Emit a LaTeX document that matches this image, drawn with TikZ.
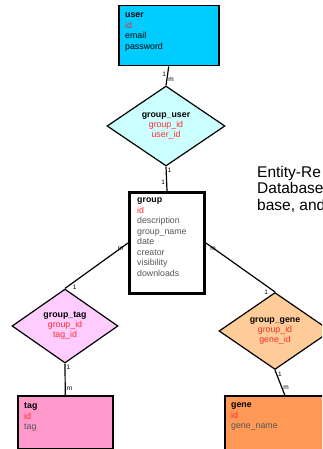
\documentclass[tikz,border=0pt]{standalone}
\usepackage{fontspec}
\setmainfont{Liberation Sans}
\usetikzlibrary{shapes.geometric}
\definecolor{usercyan}{HTML}{00CCFF}
\definecolor{linkcyan}{HTML}{CCFFFF}
\definecolor{linkpink}{HTML}{FFCCFF}
\definecolor{tagpink}{HTML}{FF99CC}
\definecolor{linkpeach}{HTML}{FFCC99}
\definecolor{geneorange}{HTML}{FF9955}
\definecolor{keyred}{HTML}{FF2A2A}
\definecolor{fieldgray}{HTML}{555555}

\begin{document}
\begin{tikzpicture}[x=1pt,y=-1pt,
    entity/.style={draw,line width=1.5pt,anchor=north west,inner sep=0},
    relation/.style={draw,diamond,line width=1.2pt,inner sep=0,align=center,
      font=\fontsize{8.8}{10}\selectfont},
    fields/.style={anchor=north west,align=left,inner sep=0,
      font=\fontsize{8.8}{10.5}\selectfont},
    card/.style={inner sep=1pt,font=\fontsize{6.5}{7}\selectfont},
    link/.style={line width=1.2pt}]
  \useasboundingbox (0,0) rectangle (322,449);
  \clip (0,0) rectangle (322,449);

  \node[entity,fill=usercyan,minimum width=100pt,minimum height=60pt] (user) at (118,5) {};
  \node[fields] (usertxt) at (125,13) {\textbf{user}\\\textcolor{keyred}{id}\\email\\password};

  \node[relation,fill=linkcyan,minimum width=118pt,minimum height=80pt] (groupuser) at (166,126)
    {\textbf{group\_user}\\\textcolor{keyred}{group\_id}\\\textcolor{keyred}{user\_id}};

  \node[entity,line width=3pt,fill=white,minimum width=75pt,minimum height=101pt] (group) at (128,191) {};
  \node[fields,text=fieldgray] (grouptxt) at (137,198) {\textcolor{black}{\textbf{group}}\\
    \textcolor{keyred}{id}\\description\\group\_name\\date\\creator\\visibility\\downloads};

  \node[relation,fill=linkpink,minimum width=106pt,minimum height=74pt] (grouptag) at (65,326)
    {\textbf{group\_tag}\\\textcolor{keyred}{group\_id}\\\textcolor{keyred}{tag\_id}};

  \node[relation,fill=linkpeach,minimum width=112pt,minimum height=74pt] (groupgene) at (275,331)
    {\textbf{group\_gene}\\\textcolor{keyred}{group\_id}\\\textcolor{keyred}{gene\_id}};

  \node[entity,fill=tagpink,minimum width=95pt,minimum height=53pt] (tag) at (17,395) {};
  \node[fields,text=fieldgray] (tagtxt) at (24,403) {\textcolor{black}{\textbf{tag}}\\\textcolor{keyred}{id}\\tag};

  \node[entity,fill=geneorange,minimum width=120pt,minimum height=60pt] (gene) at (224,395) {};
  \node[fields,text=fieldgray] (genetxt) at (231,403) {\textcolor{black}{\textbf{gene}}\\\textcolor{keyred}{id}\\gene\_name};

  \draw[link] (user.south) -- node[card,pos=0.4,left]{1} node[card,pos=0.7,right]{m} (groupuser.north);
  \draw[link] (groupuser.south) -- node[card,pos=0.15,right]{1} node[card,pos=0.65,left]{1} (group.north);
  \draw[link] (group.west) -- node[card,pos=0.05,anchor=north east]{m} node[card,pos=0.9,anchor=north west]{1} (grouptag.north);
  \draw[link] (grouptag.south) -- node[card,pos=0.12,right]{1} node[card,pos=0.8,right]{m} (tag.north);
  \draw[link] (group.east) -- node[card,pos=0.04,anchor=north west]{m} node[card,pos=0.92,anchor=north east]{1} (groupgene.north);
  \draw[link] (groupgene.south) -- node[card,pos=0.15,right]{1} node[card,pos=0.7,right]{m} (gene.north);

  \node[anchor=north west,align=left,inner sep=0,font=\fontsize{15.5}{16.5}\selectfont] (caption) at (257,166)
    {Entity-Re\\Database\\base, and};
\end{tikzpicture}
\end{document}
